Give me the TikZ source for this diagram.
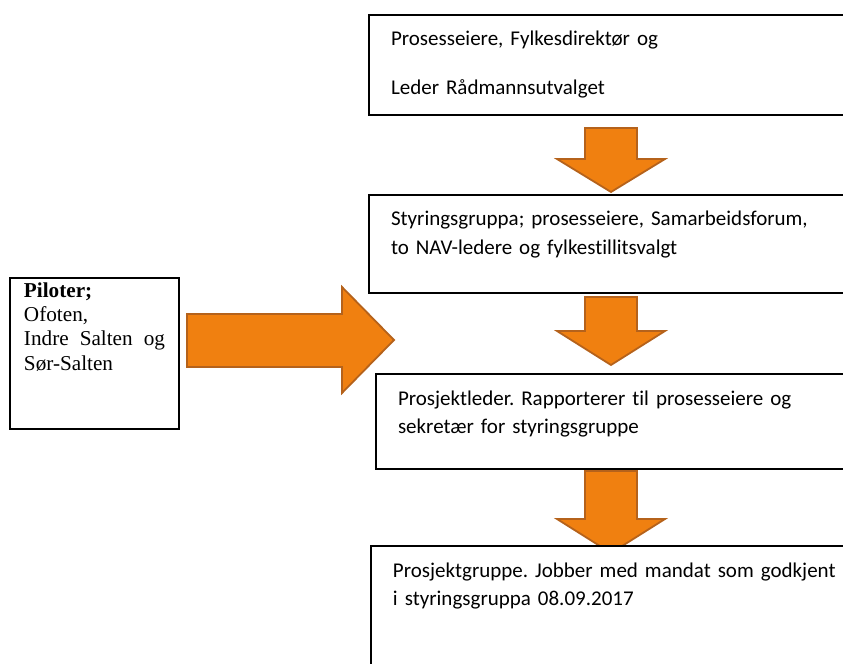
\documentclass[tikz,border=0pt]{standalone}
\usepackage{fontspec}
\setmainfont{Carlito}[Ligatures=NoCommon]
\newfontfamily\timesfont{Liberation Serif}
\definecolor{pilfyll}{RGB}{240,128,16}
\definecolor{pilkant}{RGB}{181,98,27}
\frenchspacing
\begin{document}
\begin{tikzpicture}[x=0.5pt,y=-0.5pt,
    boks/.style={draw, line width=1pt, fill=white, anchor=north west, align=left,
        text width=240pt, inner xsep=11pt, inner ysep=7.5pt, text height=8pt,
        font=\fontsize{10.5}{14}\selectfont},
    pil/.style={fill=pilfyll, draw=pilkant, line width=0.9pt}]
    \clip (0,0) rectangle (843,664);
    \draw[pil] (585,128) -- (637,128) -- (637,159) -- (665,159) -- (611,192) -- (557,159) -- (585,159) -- cycle;
    \draw[pil] (585,297) -- (637,297) -- (637,331) -- (665,331) -- (611,365) -- (557,331) -- (585,331) -- cycle;
    \draw[pil] (585,471) -- (637,471) -- (637,519) -- (665,519) -- (611,553) -- (557,519) -- (585,519) -- cycle;
    \draw[pil] (187,314) -- (342,314) -- (342,287) -- (394,340) -- (342,393) -- (342,367) -- (187,367) -- cycle;
    \node[boks, text depth=27pt] (eiere) at (368,14) {Prosesseiere, Fylkesdirektør og\\[10.5pt] Leder Rådmannsutvalget};
    \node[boks, text depth=26pt] (styring) at (368,194) {Styringsgruppa; prosesseiere, Samarbeidsforum,\\ to NAV-ledere og fylkestillitsvalgt};
    \node[boks, text depth=24.5pt] (leder) at (375,373) {Prosjektleder. Rapporterer til prosesseiere og\\ sekretær for styringsgruppe};
    \node[boks, text depth=47pt] (gruppe) at (370,545) {Prosjektgruppe. Jobber med mandat som godkjent\\ i styringsgruppa 08.09.2017};
    \node[draw, line width=1pt, anchor=north west, text width=70.5pt, align=justify,
        inner xsep=7pt, inner ysep=3pt, text height=7pt, text depth=62.5pt,
        font=\timesfont\fontsize{10.6}{12}\selectfont] (piloter) at (9,277)
        {\textbf{Piloter;}\\ Ofoten,\\ Indre Salten og Sør-Salten};
\end{tikzpicture}
\end{document}
